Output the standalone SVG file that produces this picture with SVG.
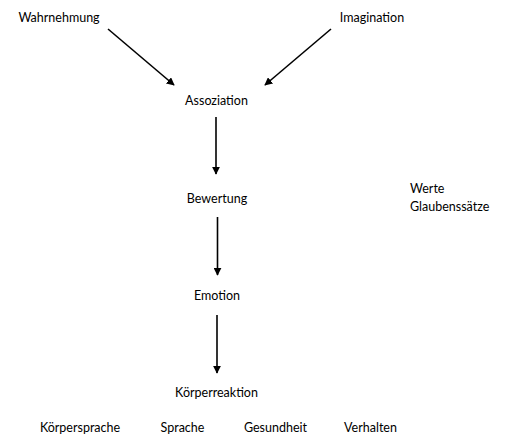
<svg xmlns="http://www.w3.org/2000/svg" width="505" height="436" viewBox="0 0 505 436">
<defs>
<style>
text{font-family:"Lato","Liberation Sans",sans-serif;font-size:12.5px;fill:#000}
.m{text-anchor:middle}
.c{stroke:#000;stroke-width:1.6;fill:none}
</style>
<marker id="ah" viewBox="0 0 10 10" refX="9" refY="5" markerWidth="5" markerHeight="5" orient="auto" markerUnits="strokeWidth">
<path d="M0,0 L10,5 L0,10 Z" fill="#000"/>
</marker>
</defs>
<rect width="505" height="436" fill="#fff"/>
<g id="connectors">
<line class="c" x1="108" y1="29" x2="174" y2="85" marker-end="url(#ah)"/>
<line class="c" x1="331" y1="29" x2="265" y2="85" marker-end="url(#ah)"/>
<line class="c" x1="216" y1="117" x2="216" y2="174" marker-end="url(#ah)"/>
<line class="c" x1="217.5" y1="217" x2="217.5" y2="275" marker-end="url(#ah)"/>
<line class="c" x1="217" y1="315" x2="217" y2="373" marker-end="url(#ah)"/>
</g>
<g id="wahrnehmung"><text class="m" x="59" y="22">Wahrnehmung</text></g>
<g id="imagination"><text class="m" x="372" y="22">Imagination</text></g>
<g id="assoziation"><text class="m" x="216.5" y="105">Assoziation</text></g>
<g id="bewertung"><text class="m" x="217" y="203">Bewertung</text></g>
<g id="werte"><text x="410" y="193">Werte</text><text x="410" y="211">Glaubenssätze</text></g>
<g id="emotion"><text class="m" x="217" y="300">Emotion</text></g>
<g id="koerperreaktion"><text class="m" x="216.5" y="397">Körperreaktion</text></g>
<g id="koerpersprache"><text class="m" x="80" y="432">Körpersprache</text></g>
<g id="sprache"><text class="m" x="182.5" y="432">Sprache</text></g>
<g id="gesundheit"><text class="m" x="275.5" y="432">Gesundheit</text></g>
<g id="verhalten"><text class="m" x="370.5" y="432">Verhalten</text></g>
</svg>
